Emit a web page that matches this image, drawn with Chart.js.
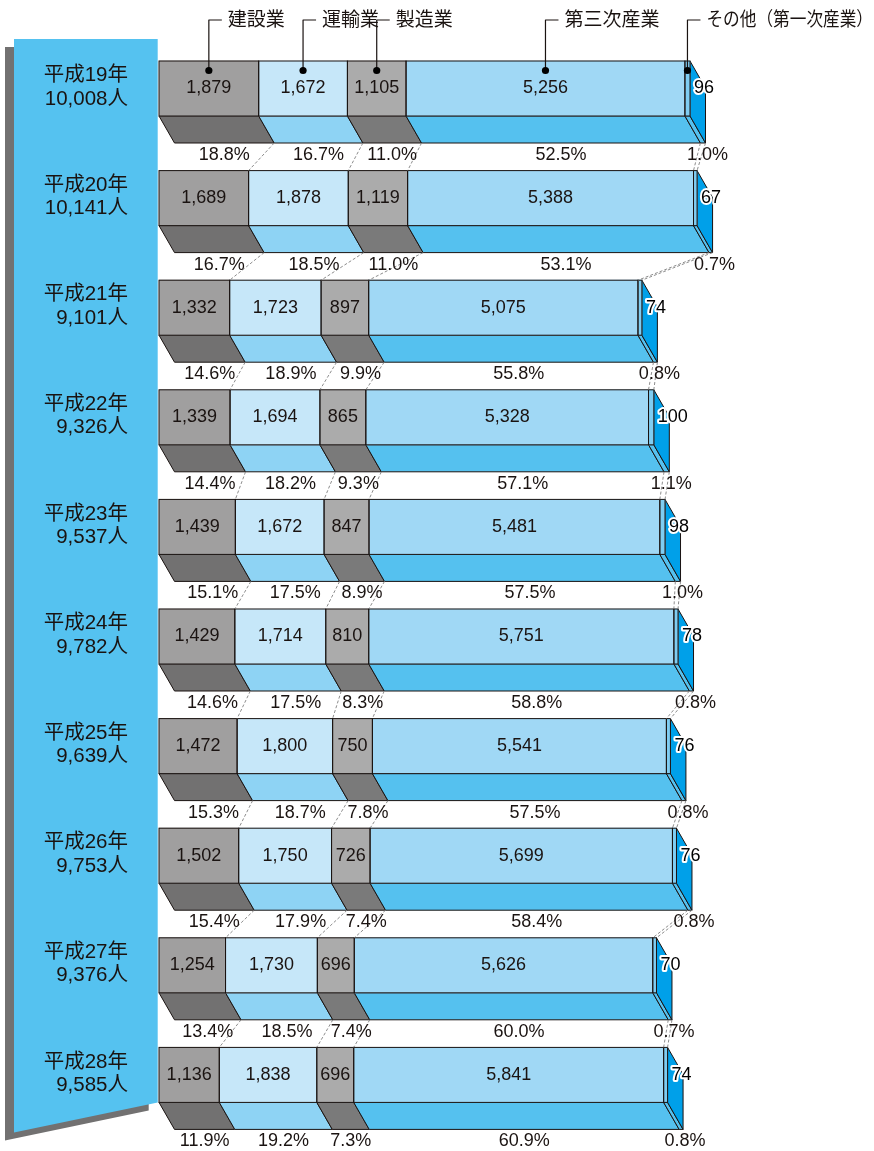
<!DOCTYPE html>
<html><head><meta charset="utf-8">
<script src="https://cdn.jsdelivr.net/npm/chart.js@4"></script>
<style>html,body{margin:0;padding:0;background:#fff;}#wrap{width:874px;height:1151px;position:relative;}</style>
</head><body><div id="wrap"><canvas id="c" width="874" height="1151"></canvas></div>
<script>
const years = ['平成19年','平成20年','平成21年','平成22年','平成23年','平成24年','平成25年','平成26年','平成27年','平成28年'];
const seriesNames = ['建設業','運輸業','製造業','第三次産業','その他（第一次産業）'];
const construction = [1879,1689,1332,1339,1439,1429,1472,1502,1254,1136];
const transport = [1672,1878,1723,1694,1672,1714,1800,1750,1730,1838];
const manufacturing = [1105,1119,897,865,847,810,750,726,696,696];
const tertiary = [5256,5388,5075,5328,5481,5751,5541,5699,5626,5841];
const other = [96,67,74,100,98,78,76,76,70,74];
const pctConstruction = ['18.8','16.7','14.6','14.4','15.1','14.6','15.3','15.4','13.4','11.9'];
const pctTransport = ['16.7','18.5','18.9','18.2','17.5','17.5','18.7','17.9','18.5','19.2'];
const pctManufacturing = ['11.0','11.0','9.9','9.3','8.9','8.3','7.8','7.4','7.4','7.3'];
const pctTertiary = ['52.5','53.1','55.8','57.1','57.5','58.8','57.5','58.4','60.0','60.9'];
const pctOther = ['1.0','0.7','0.8','1.1','1.0','0.8','0.8','0.8','0.7','0.8'];

const series = [construction, transport, manufacturing, tertiary, other];
const pcts = [pctConstruction, pctTransport, pctManufacturing, pctTertiary, pctOther];
const frontColors = ['#a09f9f','#c6e7f9','#ababab','#a0d8f5','#7fcdf2'];
const bottomColors = ['#727171','#8ed3f4','#7a7a7a','#55c1ef','#55c1ef'];
const sideColor = '#00a0e9';
const ink = '#1a1311';
const DX = 15.5, DY = 27;
const NUMFONT = '18px "Liberation Sans", "Noto Sans CJK JP", sans-serif';
const JPFONT = '"Liberation Sans", "Noto Sans CJK JP", sans-serif';

function fmt(v){ return v.toLocaleString('en-US'); }

const threeD = {
  id: 'threeD',
  beforeDatasetsDraw(chart){
    const ctx = chart.ctx;
    const n = chart.data.datasets.length;
    const m0 = chart.getDatasetMeta(0);
    const first = m0.data[0], last = m0.data[m0.data.length-1];
    const firstTop = first.y - first.height/2;
    const lastBottom = last.y + last.height/2;
    const L = 14, R = chart.chartArea.left - 1.3, T = firstTop - 22;
    const poly = (ox, oy, color) => {
      ctx.beginPath();
      ctx.moveTo(L+ox, T+oy); ctx.lineTo(R+ox, T+oy);
      ctx.lineTo(R+ox, lastBottom+oy); ctx.lineTo(L+ox, lastBottom+30+oy);
      ctx.closePath(); ctx.fillStyle = color; ctx.fill();
    };
    ctx.save();
    poly(-9, 8, '#727171');
    poly(0, 0, '#55c2f0');
    // year labels
    ctx.fillStyle = ink;
    ctx.font = '20.5px ' + JPFONT;
    ctx.textAlign = 'right'; ctx.textBaseline = 'middle';
    m0.data.forEach((el, j) => {
      let tot = 0; series.forEach(s => tot += s[j]);
      ctx.fillText(years[j], 128, el.y - 13);
      ctx.fillText(fmt(tot) + '人', 128, el.y + 10.5);
    });
    // bottom faces and side face
    ctx.lineWidth = 1; ctx.strokeStyle = ink; ctx.lineJoin = 'miter';
    for (let i = 0; i < n; i++){
      const meta = chart.getDatasetMeta(i);
      meta.data.forEach(el => {
        const bot = el.y + el.height/2, top = el.y - el.height/2;
        const x0 = el.base, x1 = el.x;
        ctx.beginPath();
        ctx.moveTo(x0, bot); ctx.lineTo(x1, bot); ctx.lineTo(x1+DX, bot+DY); ctx.lineTo(x0+DX, bot+DY); ctx.closePath();
        ctx.fillStyle = bottomColors[i]; ctx.fill(); ctx.stroke();
        if (i === n-1){
          ctx.beginPath();
          ctx.moveTo(x1, top); ctx.lineTo(x1+DX, top+DY); ctx.lineTo(x1+DX, bot+DY); ctx.lineTo(x1, bot); ctx.closePath();
          ctx.fillStyle = sideColor; ctx.fill(); ctx.stroke();
        }
      });
    }
    ctx.restore();
  },
  afterDatasetsDraw(chart){
    const ctx = chart.ctx;
    const n = chart.data.datasets.length;
    ctx.save();
    // front borders
    ctx.lineWidth = 1; ctx.strokeStyle = ink;
    for (let i = 0; i < n; i++){
      chart.getDatasetMeta(i).data.forEach(el => {
        ctx.strokeRect(el.base, el.y - el.height/2, el.x - el.base, el.height);
      });
    }
    // series (dashed) lines
    ctx.strokeStyle = '#808080'; ctx.lineWidth = 0.9; ctx.setLineDash([3,2]);
    for (let i = 0; i < n; i++){
      const d = chart.getDatasetMeta(i).data;
      for (let j = 0; j < d.length-1; j++){
        const a = d[j], b = d[j+1];
        ctx.beginPath();
        ctx.moveTo(a.x + DX, a.y + a.height/2 + DY);
        ctx.lineTo(b.x, b.y - b.height/2);
        ctx.stroke();
      }
    }
    ctx.setLineDash([]);
    // value labels
    ctx.textBaseline = 'middle';
    ctx.font = NUMFONT;
    for (let i = 0; i < n; i++){
      const d = chart.getDatasetMeta(i).data;
      d.forEach((el, j) => {
        const v = fmt(series[i][j]);
        if (i < n-1){
          ctx.fillStyle = ink; ctx.textAlign = 'center';
          ctx.fillText(v, (el.base + el.x)/2, el.y);
        } else {
          ctx.textAlign = 'left';
          ctx.strokeStyle = '#fff'; ctx.lineWidth = 4; ctx.lineJoin = 'round';
          ctx.strokeText(v, el.x + 4, el.y);
          ctx.fillStyle = '#000'; ctx.fillText(v, el.x + 4, el.y);
        }
        // percent label
        ctx.fillStyle = ink; ctx.textAlign = 'center';
        const py = el.y + el.height/2 + DY + 12;
        const px = (i < n-1) ? (el.base + el.x)/2 + DX : el.x + DX + 2;
        ctx.fillText(pcts[i][j] + '%', px, py);
      });
    }
    // legend callouts
    const topY = 20;
    ctx.font = '19px ' + JPFONT;
    ctx.textAlign = 'left';
    for (let i = 0; i < n; i++){
      const el = chart.getDatasetMeta(i).data[0];
      const cx = (el.base + el.x)/2;
      const dy = el.y - el.height/2 + 9.5;
      ctx.strokeStyle = ink; ctx.lineWidth = 1.2;
      ctx.beginPath();
      ctx.moveTo(cx, dy); ctx.lineTo(cx, topY); ctx.lineTo(cx + 13, topY);
      ctx.stroke();
      ctx.beginPath(); ctx.arc(cx, dy, 3.6, 0, Math.PI*2); ctx.fillStyle = '#000'; ctx.fill();
      ctx.fillStyle = ink;
      const tx = cx + 19;
      const maxW = 873 - tx;
      ctx.fillText(seriesNames[i], tx, topY + 1, maxW);
    }
    ctx.restore();
  }
};

new Chart(document.getElementById('c').getContext('2d'), {
  type: 'bar',
  data: {
    labels: years,
    datasets: series.map((d, i) => ({
      label: seriesNames[i], data: d, backgroundColor: frontColors[i],
      borderWidth: 0, barThickness: 55, stack: 's'
    }))
  },
  options: {
    indexAxis: 'y', responsive: false, animation: false, events: [],
    layout: { padding: { left: 159, right: 78.3, top: 33.7, bottom: 21.3 } },
    scales: {
      x: { stacked: true, min: 0, max: 12000, display: false },
      y: { stacked: true, display: false }
    },
    plugins: { legend: { display: false }, tooltip: { enabled: false } }
  },
  plugins: [threeD]
});
</script>
</body></html>
